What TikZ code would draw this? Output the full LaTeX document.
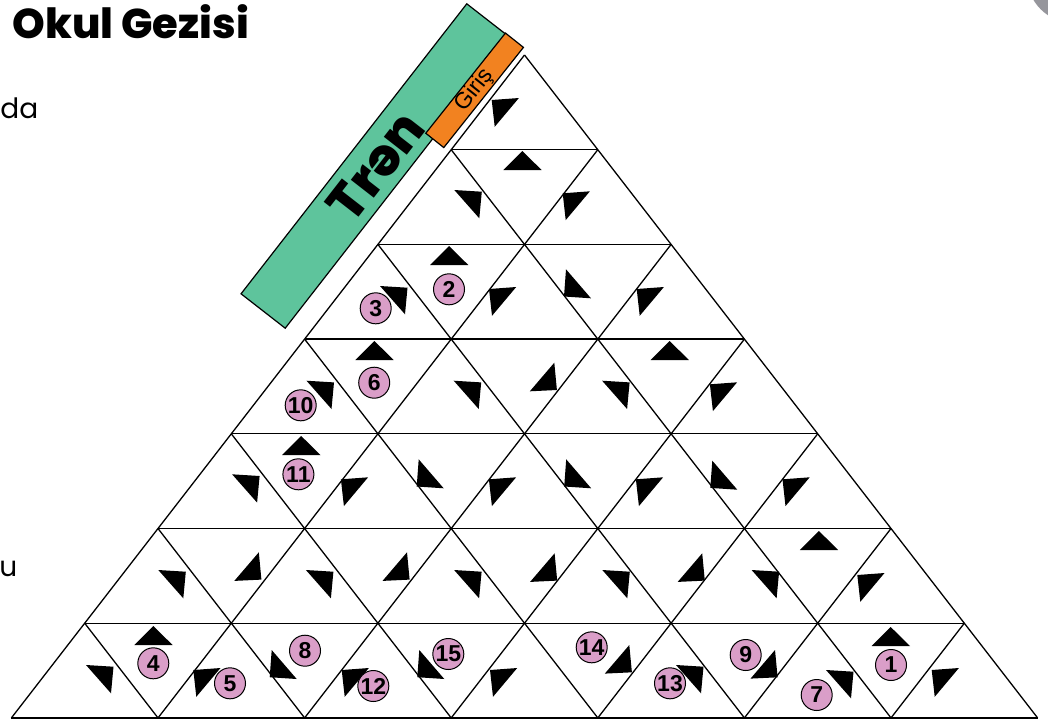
\documentclass[tikz,border=0pt]{standalone}
\usepackage{fontspec}
\setmainfont{Liberation Sans}
\newfontfamily\poppins{Poppins}
\newfontfamily\poppinsheavy{Poppins}[UprightFont={* ExtraBold}]
\definecolor{trengreen}{RGB}{94,196,156}
\definecolor{girisorange}{RGB}{242,130,32}
\definecolor{stoppink}{RGB}{218,158,200}
\definecolor{cornergray}{RGB}{150,150,156}

\begin{document}
\begin{tikzpicture}[x=0.5pt, y=-0.5pt,
        grid/.style={line width=0.65pt, line join=round},
        tip/.style={fill=black},
        stop/.style={circle, draw=black, line width=0.5pt, fill=stoppink, minimum size=15.5pt, inner sep=0pt, font=\bfseries\fontsize{11.5}{11.5}\selectfont}]
    \useasboundingbox (0,0) rectangle (1048,724);

    % page corner
    \begin{scope}
        \clip (0,0) rectangle (1048,724);
        \fill[cornergray] (1075,-25) circle (24.25pt);
    \end{scope}

    % texts
    \node[anchor=base west, inner sep=0pt, font=\poppinsheavy\fontsize{20.8}{20.8}\selectfont] (title) at (12,38) {Okul Gezisi};
    \node[anchor=base west, inner sep=0pt, font=\poppins\fontsize{14}{14}\selectfont] (da) at (0,118) {da};
    \node[anchor=base west, inner sep=0pt, font=\poppins\fontsize{14}{14}\selectfont] (u) at (-1,576) {u};

    % train and entry
    \node[draw, line width=0.6pt, fill=trengreen, rotate=52.1, minimum width=183.75pt, minimum height=28pt, inner sep=0pt, font=\poppinsheavy\fontsize{26}{26}\selectfont] (tren) at (376,166) {Trən};
    \node[draw, line width=0.6pt, fill=girisorange, rotate=51.5, minimum width=64pt, minimum height=11.5pt, inner sep=0pt, font=\fontsize{11.5}{11.5}\selectfont] (giris) at (474.6,90.3) {Giriş};

    % grid
    \foreach \k in {1,...,7}{
        \draw[grid] ({524.5-\k*73.3},{55+\k*94.7}) -- ({524.5+\k*73.3},{55+\k*94.7});
    }
    \foreach \i in {0,...,7}{
        \draw[grid] ({11.4+\i*146.6},717.9) -- ++({(7-\i)*73.3},{-(7-\i)*94.7});
        \draw[grid] ({11.4+\i*146.6},717.9) -- ++({-\i*73.3},{-\i*94.7});
    }

    % arrows out of the left side
    \foreach \x/\y in {491.7/100, 562.7/193.3, 489/289, 636.7/289, 709.9/384.3, 340.9/479.3, 488.9/479.3, 635.9/479.3, 782.5/479.3, 857.3/575, 193.3/670, 341.7/670, 490/670, 931.7/670}{
        \fill[tip] (\x,\y) -- +(27.2,-2) -- +(3,26.8) -- cycle;
    }
    % arrows out of the right side
    \foreach \x/\y in {454.3/190, 380/286, 306.5/380.7, 453.7/380.7, 602.1/380.7, 232.1/474.3, 158.3/570, 305.9/570, 454.1/570, 602.3/570, 751.6/570, 86/665, 676/665, 826/670}{
        \fill[tip] (\x,\y) -- +(27.5,1.7) -- +(25,28.3) -- cycle;
    }
    % arrows down left
    \foreach \x/\y in {566/269.3, 418.7/459.3, 566.2/459.3, 712.3/460.7, 271.7/650, 419.3/650}{
        \fill[tip] (\x,\y) -- +(25,29) -- +(-2,27.2) -- cycle;
    }
    % arrows down right
    \foreach \x/\y in {554.3/362.7, 258.8/552.3, 407/552.3, 554.6/553.3, 702.2/553.3, 629.3/645, 775/650}{
        \fill[tip] (\x,\y) -- +(2.6,27.3) -- +(-24.5,28.6) -- cycle;
    }
    % arrows up
    \foreach \x/\y in {503.3/170, 430/265, 355.4/360, 650.6/360, 282.2/455, 799.9/550, 134.3/645, 871.7/646}{
        \fill[tip] (\x,\y) -- +(38.3,0) -- +(19,-19) -- cycle;
    }

    % stops
    \node[stop] (s1) at (891,665) {1};
    \node[stop] (s2) at (449,289.3) {2};
    \node[stop] (s3) at (375.7,308.3) {3};
    \node[stop] (s4) at (153.3,663.3) {4};
    \node[stop] (s5) at (230,683.3) {5};
    \node[stop] (s6) at (374.2,382.7) {6};
    \node[stop] (s7) at (816.7,695) {7};
    \node[stop] (s8) at (305,650.7) {8};
    \node[stop] (s9) at (745.7,655) {9};
    \node[stop] (s10) at (300.7,405.3) {10};
    \node[stop] (s11) at (298.4,474.3) {11};
    \node[stop] (s12) at (373.3,686) {12};
    \node[stop] (s13) at (670,683.3) {13};
    \node[stop] (s14) at (591.7,647.3) {14};
    \node[stop] (s15) at (448.3,654) {15};
\end{tikzpicture}
\end{document}
